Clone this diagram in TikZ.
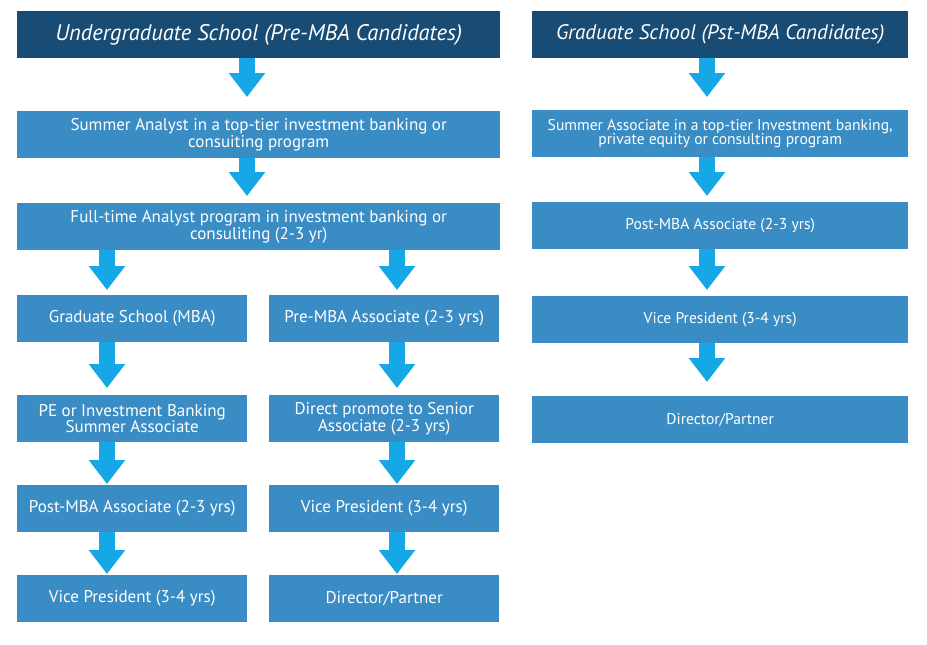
\documentclass[tikz,border=0pt]{standalone}
\usepackage{fontspec}
\setmainfont{PT Sans}
\usetikzlibrary{arrows.meta,calc}
\definecolor{hdr}{RGB}{24,76,116}
\definecolor{bx}{RGB}{58,140,196}
\definecolor{arw}{RGB}{22,168,230}
\tikzset{
  base/.style={text=white, inner sep=0pt, anchor=north west, align=center, minimum height=47pt},
  hdrbox/.style={base, fill=hdr, font=\itshape\fontsize{22.5}{24}\selectfont},
  bxbox/.style={base, fill=bx, font=\fontsize{17}{15.5}\selectfont},
  wide/.style={minimum width=483pt},
  half/.style={minimum width=230pt},
  rwide/.style={minimum width=376pt},
  rhdr/.style={font=\itshape\fontsize{21}{23}\selectfont},
  rtxt/.style={font=\fontsize{15.6}{14.5}\selectfont},
  arr/.style={draw=arw, line width=16pt, -{Triangle[length=24pt,width=35pt]}},
}
\begin{document}
\begin{tikzpicture}[x=1pt,y=-1pt]
\useasboundingbox[fill=white] (0,0) rectangle (927,645);
% guide coordinates for arrow columns
\coordinate (xa) at (247,0);
\coordinate (xb) at (107,0);
\coordinate (xc) at (397,0);
\coordinate (xd) at (707,0);
% left column
\node[hdrbox, wide] (hL) at (17,11) {Undergraduate School (Pre-MBA Candidates)};
\node[bxbox, wide] (sL) at (17,111) {Summer Analyst in a top-tier investment banking or\\consuiting program};
\node[bxbox, wide] (fL) at (17,203) {Full-time Analyst program in investment banking or\\consuliting (2-3 yr)};
\node[bxbox, half] (g1) at (17,295) {Graduate School (MBA)};
\node[bxbox, half] (p1) at (269,295) {Pre-MBA Associate (2-3 yrs)};
\node[bxbox, half] (g2) at (17,395) {PE or Investment Banking\\Summer Associate};
\node[bxbox, half] (p2) at (269,395) {Direct promote to Senior\\Associate (2-3 yrs)};
\node[bxbox, half] (g3) at (17,485) {Post-MBA Associate (2-3 yrs)};
\node[bxbox, half] (p3) at (269,485) {Vice President (3-4 yrs)};
\node[bxbox, half] (g4) at (17,575) {Vice President (3-4 yrs)};
\node[bxbox, half] (p4) at (269,575) {Director/Partner};
% right column
\node[hdrbox, rwide, rhdr] (hR) at (532,11) {Graduate School (Pst-MBA Candidates)};
\node[bxbox, rwide, rtxt] (r1) at (532,110) {Summer Associate in a top-tier Investment banking,\\private equity or consulting program};
\node[bxbox, rwide, rtxt] (r2) at (532,202) {Post-MBA Associate (2-3 yrs)};
\node[bxbox, rwide, rtxt] (r3) at (532,296) {Vice President (3-4 yrs)};
\node[bxbox, rwide, rtxt] (r4) at (532,396) {Director/Partner};
% arrows
\draw[arr] (hL.south -| xa) -- ([yshift=14pt]sL.north -| xa);
\draw[arr] (sL.south -| xa) -- ([yshift=7pt]fL.north -| xa);
\draw[arr] (fL.south -| xb) -- ([yshift=5pt]g1.north -| xb);
\draw[arr] (fL.south -| xc) -- ([yshift=5pt]p1.north -| xc);
\draw[arr] (g1.south -| xb) -- ([yshift=7pt]g2.north -| xb);
\draw[arr] (p1.south -| xc) -- ([yshift=7pt]p2.north -| xc);
\draw[arr] (g2.south -| xb) -- ([yshift=1pt]g3.north -| xb);
\draw[arr] (p2.south -| xc) -- ([yshift=1pt]p3.north -| xc);
\draw[arr] (g3.south -| xb) -- ([yshift=1pt]g4.north -| xb);
\draw[arr] (p3.south -| xc) -- ([yshift=1pt]p4.north -| xc);
\draw[arr] (hR.south -| xd) -- ([yshift=13pt]r1.north -| xd);
\draw[arr] (r1.south -| xd) -- ([yshift=6pt]r2.north -| xd);
\draw[arr] (r2.south -| xd) -- ([yshift=6pt]r3.north -| xd);
\draw[arr] (r3.south -| xd) -- ([yshift=14pt]r4.north -| xd);
\end{tikzpicture}
\end{document}
